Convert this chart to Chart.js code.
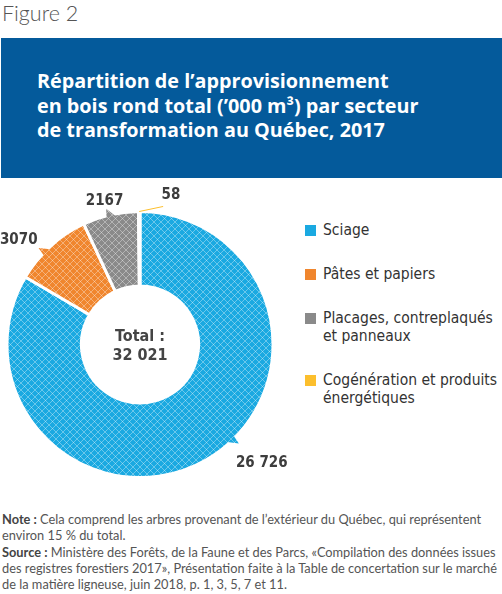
<!DOCTYPE html>
<html lang="fr">
<head>
<meta charset="utf-8">
<script src="https://cdn.jsdelivr.net/npm/chart.js@4/dist/chart.umd.min.js"></script>
<style>
  html, body { margin: 0; padding: 0; background: #fff; }
  body { width: 502px; height: 594px; position: relative; overflow: hidden; font-family: Lato, "Open Sans", sans-serif; }
  #fig { position: absolute; left: 2px; top: 0px; font-size: 21.5px; color: #555; font-weight: 300; }
  #titlebox { position: absolute; left: 1px; top: 38px; width: 501px; height: 140px; background: #045a9b; }
  #titlebox h1 { margin: 0; position: absolute; left: 36px; top: 31px; color: #fff; font-family: "Open Sans", sans-serif; font-size: 19.8px; line-height: 24.5px; font-weight: 700; }
  #chartWrap { position: absolute; left: 0; top: 180px; width: 295px; height: 320px; }
  #legend { position: absolute; left: 305px; top: 221px; width: 195px; font-family: "DejaVu Sans Condensed", sans-serif; font-size: 15.5px; color: #333; }
  .legend-item { position: relative; padding-left: 18px; line-height: 18px; margin-bottom: 26px; }
  .legend-dot { position: absolute; left: 0; top: 4px; width: 11px; height: 11px; }
  #notes { position: absolute; left: 2px; top: 511px; width: 498px; font-size: 12.8px; color: #555; line-height: 16px; }
  #notes p { margin: 0 0 1px 0; }
  #notes b { color: #444; }
</style>
</head>
<body>
<div id="fig">Figure 2</div>
<div id="titlebox"><h1>Répartition de l’approvisionnement<br>en bois rond total (’000 m³) par secteur<br>de transformation au Québec, 2017</h1></div>
<div id="chartWrap"><canvas id="donutChart"></canvas></div>
<div id="legend"></div>
<div id="notes">
  <p><b>Note :</b> Cela comprend les arbres provenant de l’extérieur du Québec, qui représentent environ 15 % du total.</p>
  <p><b>Source :</b> Ministère des Forêts, de la Faune et des Parcs, «Compilation des données issues des registres forestiers 2017», Présentation faite à la Table de concertation sur le marché de la matière ligneuse, juin 2018, p. 1, 3, 5, 7 et 11.</p>
</div>
<script>
// ── DATA ─────────────────────────────────────────────────────────────
const sectors = ['Sciage', 'Pâtes et papiers', 'Placages, contreplaqués et panneaux', 'Cogénération et produits énergétiques'];
const volumes = [26726, 3070, 2167, 58];
const valueLabels = ['26 726', '3070', '2167', '58'];
const totalLabel = ['Total :', '32 021'];

const COLORS = ['#1aa9e1', '#f0862e', '#8a8a8a', '#fcbf2d'];

// crosshatch fill like the printed figure
function hatch(color) {
  const c = document.createElement('canvas');
  c.width = 7; c.height = 7;
  const g = c.getContext('2d');
  g.fillStyle = color; g.fillRect(0, 0, 7, 7);
  g.strokeStyle = 'rgba(255,255,255,0.35)';
  g.lineWidth = 1;
  g.beginPath();
  g.moveTo(-1, -1); g.lineTo(8, 8);
  g.moveTo(-1, 8); g.lineTo(8, -1);
  g.stroke();
  return g.createPattern(c, 'repeat');
}
const FILLS = COLORS.map(hatch);

// label placement: angle shift from slice middle (deg), distance from centre, tail or leader line
const LABEL_POS = [
  { shift: -16, dist: 170, tail: -14 },
  { shift: -7, dist: 160, tail: -3 },
  { shift: -1, dist: 148, tail: 0 },
  { shift: 12, dist: 153, leader: true },
];

const labelPlugin = {
  id: 'sliceLabels',
  afterDatasetsDraw(chart) {
    const ctx = chart.ctx;
    const arcs = chart.getDatasetMeta(0).data;
    const rad = d => d * Math.PI / 180;
    ctx.save();
    arcs.forEach((arc, i) => {
      const p = LABEL_POS[i];
      const mid = (arc.startAngle + arc.endAngle) / 2;
      const R = arc.outerRadius;
      if (p.leader) {
        const a0 = mid;
        const a1 = mid + rad(p.shift);
        ctx.strokeStyle = COLORS[i];
        ctx.lineWidth = 1;
        ctx.beginPath();
        ctx.moveTo(arc.x + R * Math.cos(a0), arc.y + R * Math.sin(a0));
        ctx.lineTo(arc.x + (p.dist - 9) * Math.cos(a1) - 6, arc.y + (p.dist - 9) * Math.sin(a1) + 3);
        ctx.stroke();
      } else {
        const t = mid + rad(p.tail);
        const d = 4.5 / R;
        ctx.fillStyle = FILLS[i];
        ctx.beginPath();
        ctx.moveTo(arc.x + (R - 2) * Math.cos(t - d), arc.y + (R - 2) * Math.sin(t - d));
        ctx.lineTo(arc.x + (R + 7) * Math.cos(t - d * 0.6), arc.y + (R + 7) * Math.sin(t - d * 0.6));
        ctx.lineTo(arc.x + (R - 2) * Math.cos(t + d), arc.y + (R - 2) * Math.sin(t + d));
        ctx.closePath();
        ctx.fill();
      }
      const a = mid + rad(p.shift);
      ctx.fillStyle = '#3d3d3d';
      ctx.font = 'bold 15px "DejaVu Sans Condensed", sans-serif';
      ctx.textAlign = 'center';
      ctx.textBaseline = 'middle';
      ctx.fillText(valueLabels[i], arc.x + p.dist * Math.cos(a), arc.y + p.dist * Math.sin(a));
    });
    // centre total
    const a0 = arcs[0];
    ctx.font = 'bold 16px "DejaVu Sans Condensed", sans-serif';
    ctx.fillStyle = '#444';
    ctx.fillText(totalLabel[0], a0.x, a0.y - 8);
    ctx.fillText(totalLabel[1], a0.x, a0.y + 11);
    ctx.restore();
  }
};

new Chart(document.getElementById('donutChart'), {
  type: 'doughnut',
  data: {
    labels: sectors,
    datasets: [{ data: volumes, backgroundColor: FILLS, borderColor: '#fff', borderWidth: 3, hoverOffset: 0 }]
  },
  options: {
    responsive: true, maintainAspectRatio: false, animation: false,
    cutout: '44%',
    layout: { padding: { left: 5, right: 20, top: 30, bottom: 21 } },
    plugins: { legend: { display: false }, tooltip: { enabled: false } }
  },
  plugins: [labelPlugin]
});

// legend
document.getElementById('legend').innerHTML = sectors.map((s, i) =>
  `<div class="legend-item"><div class="legend-dot" style="background:${COLORS[i]}"></div>${s}</div>`).join('');
</script>
</body>
</html>
